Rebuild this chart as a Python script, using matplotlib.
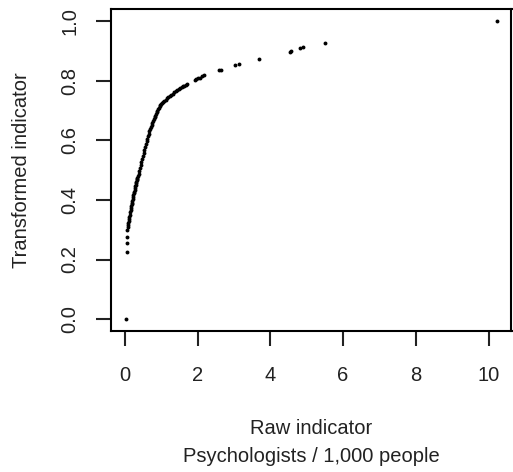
import numpy as np
import matplotlib.pyplot as plt

plt.rcParams['font.family'] = ['Liberation Sans', 'DejaVu Sans']

# raw indicator (psychologists / 1,000 people) vs transformed indicator
raw = [0.03, 0.05, 0.055, 0.06,
       0.07, 0.08, 0.09, 0.10, 0.11, 0.12, 0.13, 0.14, 0.15, 0.16,
       0.17, 0.18, 0.19, 0.20, 0.21, 0.22, 0.23, 0.24, 0.25, 0.26,
       0.27, 0.28, 0.29, 0.30, 0.31, 0.32, 0.33, 0.34, 0.35, 0.36,
       0.38, 0.40, 0.42, 0.44, 0.46, 0.48, 0.50, 0.52, 0.54, 0.56,
       0.58, 0.60, 0.62, 0.64, 0.66, 0.68, 0.70, 0.72, 0.74, 0.76,
       0.78, 0.80, 0.82, 0.84, 0.86, 0.88, 0.90, 0.92, 0.94, 0.96, 0.98,
       1.00, 1.03, 1.06, 1.09, 1.12, 1.16, 1.20, 1.24, 1.28, 1.32,
       1.36, 1.40, 1.44, 1.48, 1.52, 1.56, 1.60, 1.64, 1.68, 1.72,
       1.93, 1.97, 2.02, 2.07, 2.12, 2.17, 2.59, 2.64, 3.02, 3.15,
       3.69, 4.53, 4.58, 4.82, 4.90, 5.51, 10.22]
transformed = [0.0, 0.226, 0.255, 0.277,
               0.300, 0.308, 0.315, 0.322, 0.330, 0.337, 0.344, 0.351, 0.358, 0.365,
               0.372, 0.379, 0.385, 0.391, 0.398, 0.404, 0.410, 0.416, 0.422, 0.428,
               0.434, 0.440, 0.446, 0.451, 0.456, 0.461, 0.466, 0.471, 0.475, 0.479,
               0.488, 0.497, 0.507, 0.517, 0.527, 0.538, 0.549, 0.559, 0.569, 0.579,
               0.589, 0.598, 0.606, 0.614, 0.622, 0.630, 0.638, 0.645, 0.652, 0.659,
               0.665, 0.671, 0.677, 0.683, 0.689, 0.695, 0.700, 0.705, 0.710, 0.714, 0.718,
               0.721, 0.725, 0.729, 0.733, 0.737, 0.741, 0.745, 0.749, 0.753, 0.757,
               0.761, 0.765, 0.769, 0.772, 0.775, 0.778, 0.781, 0.784, 0.787, 0.790,
               0.802, 0.805, 0.808, 0.811, 0.815, 0.818, 0.835, 0.837, 0.852, 0.857,
               0.874, 0.897, 0.899, 0.910, 0.912, 0.927, 1.0]

xticks = [0, 2, 4, 6, 8, 10]
yticks = [0.0, 0.2, 0.4, 0.6, 0.8, 1.0]

fig = plt.figure(figsize=(5.13, 4.72), dpi=100)
ax = fig.add_axes([111/513, 1-331/472, 400.5/513, 321.7/472])

ax.plot(raw, transformed, 'o', color='black', markersize=2.8, markeredgewidth=0)

# R style 4% padding
xr = max(raw) - min(raw)
ax.set_xlim(min(raw) - 0.04*xr, max(raw) + 0.04*xr)
ax.set_ylim(-0.04, 1.04)

ax.set_xticks(xticks)
ax.set_xticklabels([str(t) for t in xticks])
ax.set_yticks(yticks)
ax.set_yticklabels(['%.1f' % t for t in yticks], rotation=90, va='center')

for s in ax.spines.values():
    s.set_linewidth(1.5)
ax.tick_params(length=11, width=1.5, labelsize=14.5, pad=14, colors='#222222')
ax.tick_params(axis='y', pad=12)

ax.set_xlabel('Raw indicator\nPsychologists / 1,000 people', fontsize=14.5,
              labelpad=25, color='#222222', linespacing=1.6)
ax.set_ylabel('Transformed indicator', fontsize=14.5, labelpad=21, color='#222222')

fig.savefig('out.png', dpi=100)
